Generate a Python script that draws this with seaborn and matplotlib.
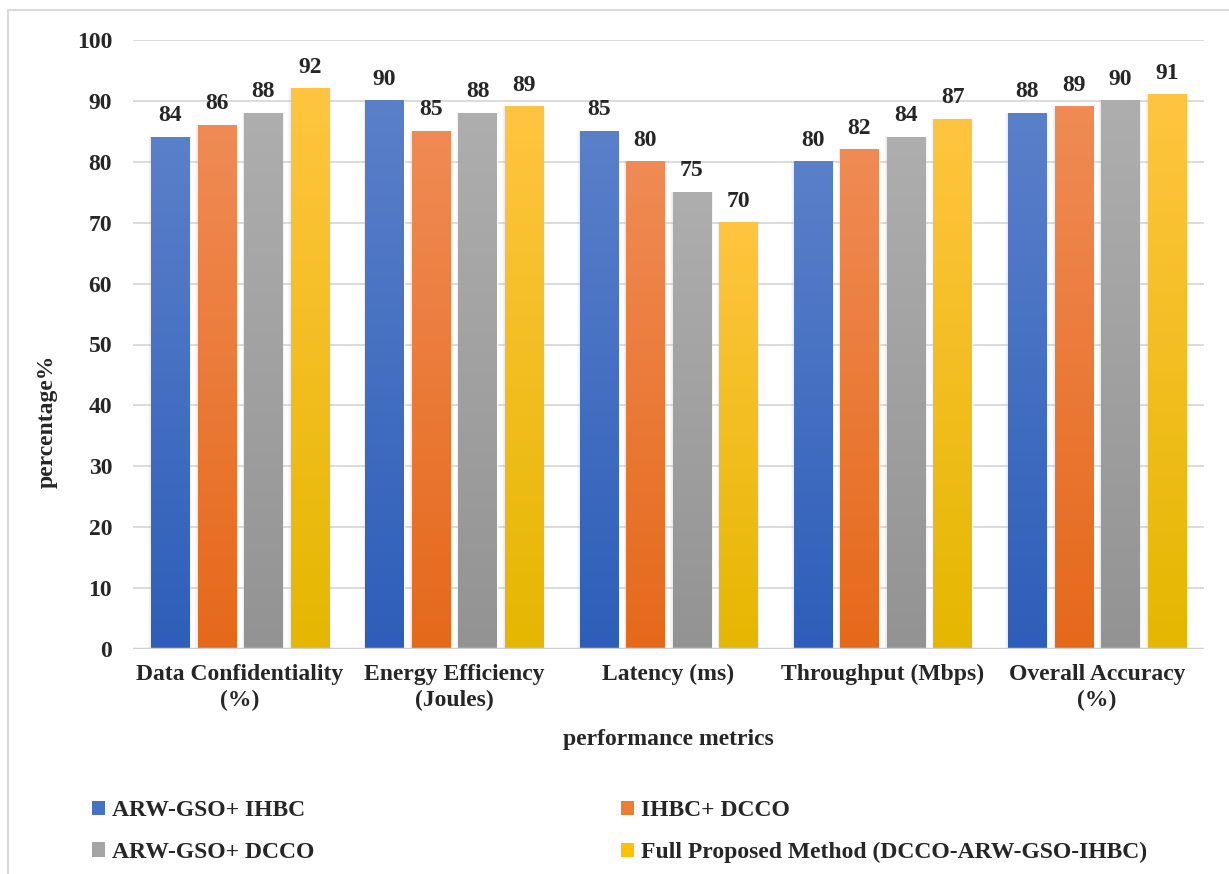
import numpy as np
import pandas as pd
import matplotlib
matplotlib.use('Agg')
import matplotlib.pyplot as plt
import seaborn as sns
from matplotlib.colors import LinearSegmentedColormap
from matplotlib.patches import Rectangle, Patch

#%% podaci
categories = ['Data Confidentiality\n(%)', 'Energy Efficiency\n(Joules)', 'Latency (ms)',
              'Throughput (Mbps)', 'Overall Accuracy\n(%)']
methods = ['ARW-GSO+ IHBC', 'IHBC+ DCCO', 'ARW-GSO+ DCCO',
           'Full Proposed Method (DCCO-ARW-GSO-IHBC)']
arw_ihbc = [84, 90, 85, 80, 88]
ihbc_dcco = [86, 85, 80, 82, 89]
arw_dcco = [88, 88, 75, 84, 90]
full_method = [92, 89, 70, 87, 91]

# boje gradijenta (gore svetlije, dole tamnije)
top_colors = ['#5B80CA', '#F08B55', '#AEAEAE', '#FFC540']
bottom_colors = ['#2D5EB9', '#E5691A', '#939393', '#E5B700']
mid_colors = ['#4472C4', '#ED7D31', '#A5A5A5', '#FFC000']

df = pd.DataFrame({
    'metric': categories * 4,
    'method': np.repeat(methods, len(categories)),
    'value': arw_ihbc + ihbc_dcco + arw_dcco + full_method,
})

#%% crtanje
sns.set_style('white')
plt.rcParams['font.family'] = ['Liberation Serif', 'DejaVu Serif']
plt.rcParams['font.weight'] = 'bold'

fig = plt.figure(figsize=(12.29, 8.74), dpi=100)
ax = fig.add_axes([133/1229, 1 - 649/874, 1071/1229, 609/874])

sns.barplot(data=df, x='metric', y='value', hue='method', palette=mid_colors,
            width=0.87, gap=0.18, ax=ax, legend=False, zorder=3)

for i, cont in enumerate(ax.containers):
    cmap = LinearSegmentedColormap.from_list('g%d' % i, [bottom_colors[i], top_colors[i]])
    grad = np.linspace(1, 0, 256).reshape(-1, 1)
    for bar in cont:
        x, w, h = bar.get_x(), bar.get_width(), bar.get_height()
        # blaga senka oko stubica
        for k, a in zip([0.012, 0.008, 0.004], [0.04, 0.06, 0.08]):
            ax.add_patch(Rectangle((x - k, 0), w + 2 * k, h + k * 8, color='#808080',
                                   alpha=a, lw=0, zorder=2.5))
        ax.imshow(grad, extent=(x, x + w, 0, h), aspect='auto', cmap=cmap, zorder=3.5)
        bar.set_facecolor('none')
    ax.bar_label(cont, padding=8, fontsize=17, fontweight='bold', zorder=5)

ax.set_xlim(-0.5, 4.5)
ax.set_ylim(0, 100)
ax.set_yticks(range(0, 101, 10))
ax.yaxis.grid(True, color='#d9d9d9', lw=1.3, zorder=0)
ax.axhline(0, color='#d0d0d0', lw=2.5, zorder=4)
sns.despine(ax=ax, left=True, bottom=True)
ax.tick_params(axis='y', length=0, pad=15, labelsize=17)
ax.tick_params(axis='x', length=0, pad=11, labelsize=17)
for lab in ax.get_xticklabels():
    lab.set_linespacing(1.3)
    lab.set_fontweight('bold')
for lab in ax.get_yticklabels():
    lab.set_fontweight('bold')

ax.set_xlabel('performance metrics', fontsize=17, fontweight='bold')
ax.xaxis.set_label_coords(0.5, -(740 - 649) / 609)
ax.xaxis.label.set_va('center')
ax.set_ylabel('percentage%', fontsize=17, fontweight='bold')
ax.yaxis.set_label_coords((47 - 133) / 1071, (649 - 421) / 609)
ax.yaxis.label.set_va('center')

handles = [Patch(facecolor=c, edgecolor='none') for c in mid_colors]
order = [0, 2, 1, 3]
fig.legend([handles[j] for j in order], [methods[j] for j in order], ncol=2,
           loc='center left', bbox_to_anchor=(80/1229, 1 - 831.5/874), frameon=False,
           fontsize=17, handlelength=0.55, handleheight=0.55, handletextpad=0.3,
           columnspacing=13.0, labelspacing=0.88, borderpad=0)

# okvir oko grafikona
fig.patches.append(Rectangle((8/1229, -0.2), 1.5, 1.2 - 10/874 + 0.0, transform=fig.transFigure,
                             fill=False, edgecolor='#d9d9d9', lw=1.5))

plt.savefig('out.png', dpi=100)
